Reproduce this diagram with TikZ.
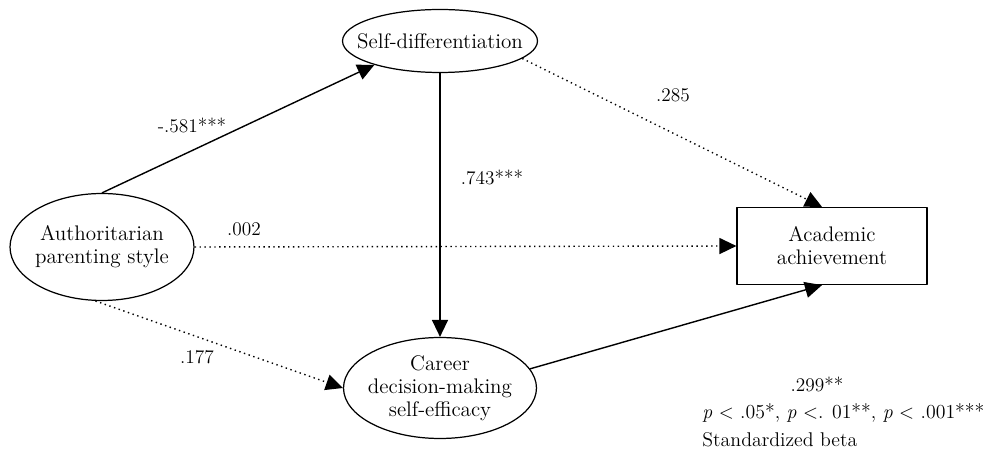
\documentclass[tikz,border=0pt]{standalone}
\usetikzlibrary{shapes.geometric,arrows.meta}
\begin{document}
\begin{tikzpicture}[x=0.02cm, y=-0.02cm, line join=round, >={Triangle[length=3.4mm,width=3.2mm]}]
		\tikzset{var/.style={draw, ellipse, line width=0.7pt, inner sep=0pt},
			vtext/.style={align=center, font=\fontsize{12}{13}\selectfont},
			obs/.style={draw, rectangle, line width=0.7pt, inner sep=0pt, align=center, minimum width=3.8cm, minimum height=1.54cm, font=\fontsize{12}{13}\selectfont},
			coef/.style={font=\fontsize{11}{13}\selectfont},
			path/.style={->, line width=0.8pt},
			npath/.style={->, line width=0.8pt, dotted}}
		\useasboundingbox (0,0) rectangle (994,455);
		% variables
		\node[var, minimum width=3.68cm, minimum height=2.14cm] (auth) at (102,247) {};
		\node[vtext] (authtxt) at (auth) {Authoritarian\\parenting style};
		\node[var, minimum width=3.9cm, minimum height=1.26cm] (self) at (440,41) {};
		\node[vtext] (selftxt) at (self) {Self-differentiation};
		\node[var, minimum width=3.86cm, minimum height=2.02cm] (career) at (440,388) {};
		\node[vtext] (careertxt) at (career) {Career\\decision-making\\self-efficacy};
		\node[obs] (acad) at (832,246) {Academic\\achievement};
		% paths
		\draw[path] (auth.north) -- (self.200);
		\draw[npath] (self.-12) -- ([xshift=-0.2cm]acad.north);
		\draw[npath] (auth.east) -- (acad.west);
		\draw[path] (self.south) -- (career.north);
		\draw[npath] (auth.-97) -- (career.west);
		\draw[path] (career.12) -- ([xshift=-0.2cm]acad.south);
		% coefficients
		\node[coef] (b1) at (192,125) {-.581***};
		\node[coef] (b2) at (673,95) {.285};
		\node[coef] (b3) at (492,177) {.743***};
		\node[coef] (b4) at (244,229) {.002};
		\node[coef] (b5) at (197,357) {.177};
		\node[coef] (b6) at (817,384) {.299**};
		\node[coef, anchor=base west, align=left, inner sep=0pt, font=\fontsize{11.3}{16.5}\selectfont] (legend) at (702,447) {\textit{p} $<$ .05*, \textit{p} $<$. 01**, \textit{p} $<$ .001***\\Standardized beta};
\end{tikzpicture}
\end{document}
